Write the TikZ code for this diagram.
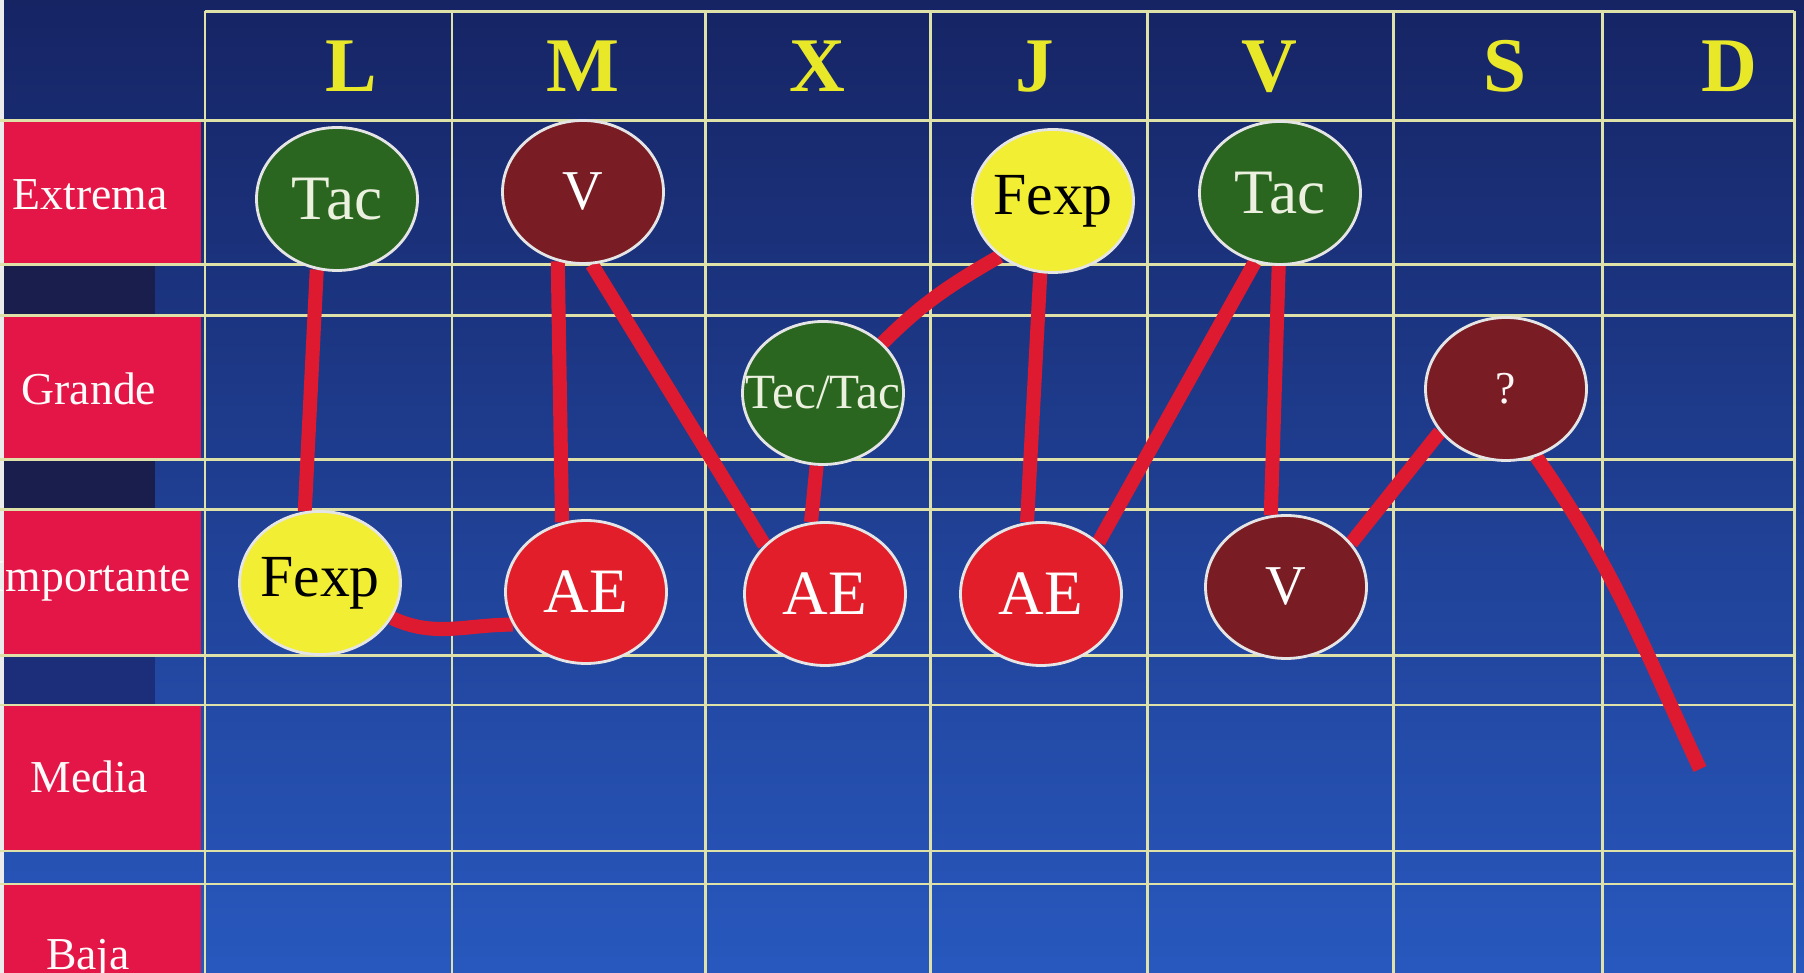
\documentclass[tikz,border=0pt]{standalone}
\usepackage{fontspec}
\setmainfont{Liberation Serif}
\usepackage{xcolor}
\usepackage{tikz}
\usetikzlibrary{shapes,positioning,backgrounds}
\definecolor{fondoarriba}{RGB}{22,36,100}
\definecolor{fondomedio}{RGB}{28,58,152}
\definecolor{fondoabajo}{RGB}{40,88,190}
\definecolor{rosa}{RGB}{228,22,72}
\definecolor{marino}{RGB}{26,30,76}
\definecolor{marinoclaro}{RGB}{28,46,122}
\definecolor{rejilla}{RGB}{222,226,168}
\definecolor{verdeosc}{RGB}{42,102,32}
\definecolor{granate}{RGB}{122,28,36}
\definecolor{amarillo}{RGB}{242,238,52}
\definecolor{rojoae}{RGB}{226,30,42}
\definecolor{rojolinea}{RGB}{222,26,48}
\definecolor{crema}{RGB}{236,240,222}
\definecolor{letra}{RGB}{232,232,40}
\tikzstyle{estado} = [ellipse, minimum width=1.61cm, minimum height=1.43cm, inner xsep=-0.25cm, inner ysep=0pt, text centered, draw=white!80!gray, line width=0.8pt]
\tikzstyle{nverde} = [estado, fill=verdeosc, text=crema, font=\fontsize{18}{18}\selectfont]
\tikzstyle{ngranate} = [estado, fill=granate, text=white, font=\fontsize{16}{16}\selectfont]
\tikzstyle{namarillo} = [estado, fill=amarillo, text=black, font=\fontsize{17}{17}\selectfont]
\tikzstyle{nrojo} = [estado, fill=rojoae, text=white, font=\fontsize{18}{18}\selectfont]
\tikzstyle{dia} = [anchor=base, text=letra, font=\fontsize{22}{22}\selectfont\bfseries]
\tikzstyle{nivel} = [anchor=base, text=white!94!pink, font=\fontsize{13}{13}\selectfont]
\tikzstyle{malla} = [line width=0.85pt, color=rejilla]
\tikzstyle{linea} = [line width=4pt, color=rojolinea]

\begin{document}
\begin{tikzpicture}
\useasboundingbox (0,0) rectangle (18.04,9.73);

% Dias de la semana
\node (lunes) [dia] at (3.51,8.81) {L};
\node (martes) [dia] at (5.83,8.81) {M};
\node (miercoles) [dia] at (8.17,8.81) {X};
\node (jueves) [dia] at (10.35,8.81) {J};
\node (viernes) [dia] at (12.69,8.81) {V};
\node (sabado) [dia] at (15.05,8.81) {S};
\node (domingo) [dia] at (17.29,8.81) {D};

% Niveles
\node (extrema) [nivel] at (0.90,7.63) {Extrema};
\node (grande) [nivel] at (0.89,5.68) {Grande};
\node (importante) [nivel] at (0.91,3.81) {Importante};
\node (media) [nivel] at (0.89,1.80) {Media};
\node (baja) [nivel] at (0.88,0.03) {Baja};

% Estados
\node (tacL) [nverde] at (3.37,7.74) {Tac};
\node (vM) [ngranate] at (5.83,7.81) {V};
\node (fexpJ) [namarillo] at (10.53,7.72) {Fexp};
\node (tacV) [nverde] at (12.80,7.80) {Tac};
\node (tectac) [nverde, font=\fontsize{14}{14}\selectfont] at (8.23,5.80) {Tec/Tac};
\node (duda) [ngranate, text=white!85!pink, font=\fontsize{13}{13}\selectfont] at (15.06,5.84) {?};
\node (fexpL) [namarillo] at (3.20,3.90) {Fexp};
\node (aeM) [nrojo] at (5.86,3.81) {AE};
\node (aeX) [nrojo] at (8.25,3.79) {AE};
\node (aeJ) [nrojo] at (10.41,3.79) {AE};
\node (vV) [ngranate] at (12.86,3.86) {V};
\coordinate (fin) at (17.00,2.04);

\begin{scope}[on background layer]
% Fondo
\shade [top color=fondoarriba, middle color=fondomedio, bottom color=fondoabajo] (0,0) rectangle (18.04,9.73);
\fill [rosa] (0,7.08) rectangle (2.01,8.52);
\fill [rosa] (0,5.13) rectangle (2.01,6.57);
\fill [rosa] (0,3.17) rectangle (2.01,4.63);
\fill [rosa] (0,1.22) rectangle (2.01,2.68);
\fill [rosa] (0,0) rectangle (2.01,0.89);
\fill [marino] (0,6.57) rectangle (1.55,7.08);
\fill [marino] (0,4.63) rectangle (1.55,5.13);
\fill [marinoclaro] (0,2.68) rectangle (1.55,3.17);
\fill [white!85!gray] (0,0) rectangle (0.04,9.73);

% Rejilla
\draw [malla] (2.05,9.615) -- (17.94,9.615);
\draw [malla] (0,8.52) -- (17.94,8.52) (0,7.08) -- (17.94,7.08)
  (0,6.57) -- (17.94,6.57) (0,5.13) -- (17.94,5.13)
  (0,4.63) -- (17.94,4.63) (0,3.17) -- (17.94,3.17)
  (0,2.68) -- (17.94,2.68) (0,1.22) -- (17.94,1.22)
  (0,0.89) -- (17.94,0.89);
\draw [malla] (2.05,9.615) -- (2.05,0) (4.52,9.615) -- (4.52,0)
  (7.05,9.615) -- (7.05,0) (9.30,9.615) -- (9.30,0)
  (11.47,9.615) -- (11.47,0) (13.93,9.615) -- (13.93,0)
  (16.02,9.615) -- (16.02,0) (17.94,9.615) -- (17.94,0);

% Recorrido
\draw [linea] (tacL.254) -- (fexpL.102);
\draw [linea] (fexpL.-26) to[out=-25,in=180] (aeM.204);
\draw [linea] (aeM.109) -- (vM.-110);
\draw [linea] (vM.-83) -- (aeX.141);
\draw [linea] (aeX.101) -- (tectac.-95);
\draw [linea] (tectac.40) to[out=45,in=-150] (fexpJ.-134);
\draw [linea] (fexpJ.-100) -- (aeJ.101);
\draw [linea] (aeJ.42) -- (tacV.-110);
\draw [linea] (tacV.-91) -- (vV.102);
\draw [linea] (vV.34) -- (duda.-147);
\draw [linea] (duda.-66) to[out=-55,in=115] (fin);
\end{scope}

\end{tikzpicture}
\end{document}
